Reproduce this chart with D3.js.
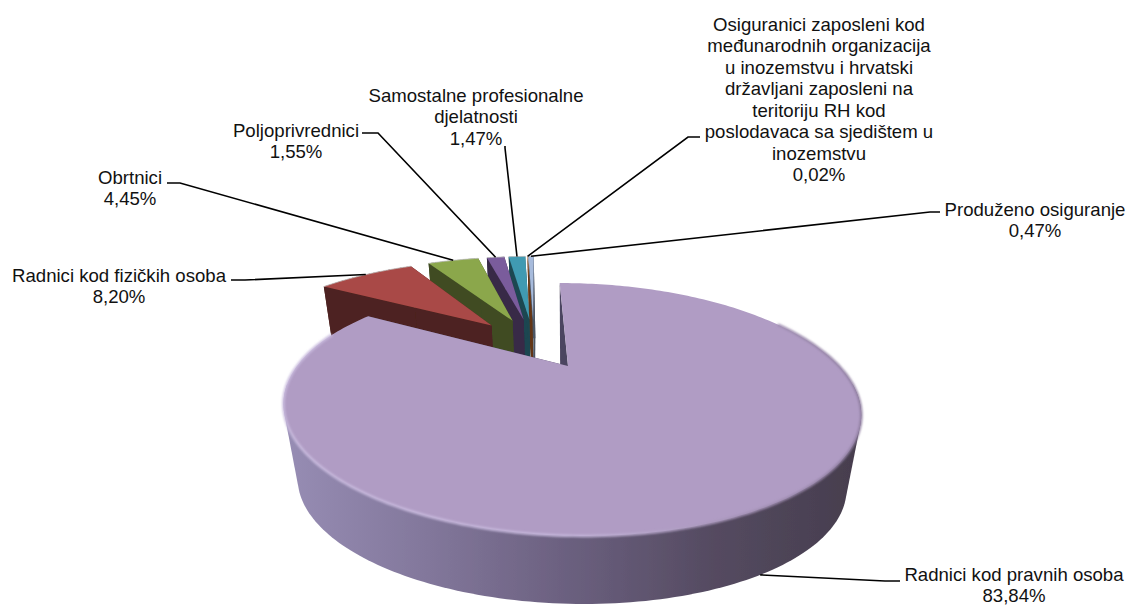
<!DOCTYPE html>
<html>
<head>
<meta charset="utf-8">
<script src="https://cdn.jsdelivr.net/npm/d3@7"></script>
<style>
  html, body { margin: 0; padding: 0; background: #fff; }
  text { font-family: "Liberation Sans", Arial, sans-serif; font-size: 18.6px; fill: #111; }
</style>
</head>
<body>
<svg id="chart"></svg>
<script>
const categories = [
    'Radnici kod pravnih osoba',
    'Radnici kod fizičkih osoba',
    'Obrtnici',
    'Poljoprivrednici',
    'Samostalne profesionalne djelatnosti',
    'Osiguranici zaposleni kod međunarodnih organizacija u inozemstvu i hrvatski državljani zaposleni na teritoriju RH kod poslodavaca sa sjedištem u inozemstvu',
    'Produženo osiguranje'
];
const shares = [83.84, 8.20, 4.45, 1.55, 1.47, 0.02, 0.47];
const shareLabels = ['83,84%', '8,20%', '4,45%', '1,55%', '1,47%', '0,02%', '0,47%'];
const colors = ['#b09cc4', '#a94a46', '#8ba74c', '#7a5c9c', '#3f9ab2', '#d9772b', '#a7bbdc'];

// label layout: wrapped lines, centre x, first line y, leader elbow and leader tail
const labelLayout = [
    { lines: ['Radnici kod pravnih osoba'], x: 1014, y: 574, elbow: [885, 581], tail: [900, 581], onBase: true },
    { lines: ['Radnici kod fizičkih osoba'], x: 119, y: 275, elbow: [245, 280], tail: [231, 280] },
    { lines: ['Obrtnici'], x: 130, y: 177, elbow: [180, 183], tail: [167, 183] },
    { lines: ['Poljoprivrednici'], x: 296, y: 130, elbow: [378, 133], tail: [362, 133] },
    { lines: ['Samostalne profesionalne', 'djelatnosti'], x: 476, y: 95, elbow: [505, 148], tail: [505, 146] },
    { lines: ['Osiguranici zaposleni kod', 'međunarodnih organizacija', 'u inozemstvu i hrvatski', 'državljani zaposleni na', 'teritoriju RH kod', 'poslodavaca sa sjedištem u', 'inozemstvu'], x: 819, y: 24, elbow: [688, 137], tail: [700, 137] },
    { lines: ['Produženo osiguranje'], x: 1035, y: 209, elbow: [930, 212], tail: [940, 212] }
];

const width = 1128, height = 605;

const svg = d3.select('#chart')
    .attr('width', width)
    .attr('height', height)
    .style('display', 'block');

// perspective of the pie plane: u to the right, v towards the viewer, radius 1
const px = 568, py = 366, ax = 271, ay = 111.5, persp = 0.344, skew = 0.1;
const baseScale = 0.95, vanishY = 1896;
const explode = 0.26;

function project(u, v, onBase) {
    const w = 1 - persp * v;
    const y = py + ay * v / w;
    const x = px + ax * u / w + skew * (y - py);
    if (!onBase) return [x, y];
    return [px + (x - px) * baseScale, vanishY + (y - vanishY) * baseScale];
}

const slices = d3.pie().sort(null)(shares);

const midAngle = d => (d.startAngle + d.endAngle) / 2;
const mainMid = midAngle(slices[0]);

// the main slice sits on the origin, everything else is offset from it
function sliceOrigin(d) {
    const a = midAngle(d);
    return [
        explode * (Math.sin(a) - Math.sin(mainMid)),
        explode * (Math.cos(mainMid) - Math.cos(a))
    ];
}

function rimPoint(d, a, onBase) {
    const o = sliceOrigin(d);
    return project(o[0] + Math.sin(a), o[1] - Math.cos(a), onBase);
}

function arcPoints(d, a0, a1, onBase) {
    const n = Math.max(2, Math.ceil((a1 - a0) / 0.02));
    return d3.range(n + 1).map(i => rimPoint(d, a0 + (a1 - a0) * i / n, onBase));
}

const closed = d3.line().curve(d3.curveLinearClosed);
const open = d3.line();

const defs = svg.append('defs');

const sideGrad = defs.append('linearGradient')
    .attr('id', 'sideGrad')
    .attr('gradientUnits', 'userSpaceOnUse')
    .attr('x1', 284).attr('x2', 862).attr('y1', 0).attr('y2', 0);
[[0, '#978db4'], [0.25, '#82779b'], [0.5, '#6a5f7e'], [0.75, '#544a60'], [1, '#463d4d']].forEach(s => {
    sideGrad.append('stop').attr('offset', s[0]).attr('stop-color', s[1]);
});

const rimGrad = defs.append('linearGradient')
    .attr('id', 'rimGrad')
    .attr('gradientUnits', 'userSpaceOnUse')
    .attr('x1', 284).attr('x2', 862).attr('y1', 0).attr('y2', 0);
[[0, '#c9bbde'], [0.5, '#c6b8dc'], [0.75, '#a896ba'], [1, '#8f7ea0']].forEach(s => {
    rimGrad.append('stop').attr('offset', s[0]).attr('stop-color', s[1]);
});

defs.append('filter').attr('id', 'soft')
    .append('feGaussianBlur').attr('stdDeviation', 0.8);

defs.append('filter').attr('id', 'softer')
    .append('feGaussianBlur').attr('stdDeviation', 0.45);

const pieGroup = svg.append('g').attr('filter', 'url(#softer)');

// back to front: the thin slices first, the big one last
slices.slice().reverse().forEach(d => {
    const i = d.index;
    const o = sliceOrigin(d);
    const apexTop = project(o[0], o[1], false);
    const apexBase = project(o[0], o[1], true);
    const wall = d3.color(colors[i]).darker(2.2).formatHex();
    const g = pieGroup.append('g');

    const faces = [d.startAngle, d.endAngle].map(a => [
        apexTop, rimPoint(d, a, false), rimPoint(d, a, true), apexBase
    ]);
    g.selectAll('path.wall')
        .data(i === 0 ? faces : faces.slice().reverse())
        .join('path')
        .attr('class', 'wall')
        .attr('d', closed)
        .attr('fill', i === 0 ? '#4c4560' : wall);

    const topArc = arcPoints(d, d.startAngle, d.endAngle, false);
    const baseArc = arcPoints(d, d.startAngle, d.endAngle, true);

    if (i === 0) {
        // front of the drum, the top face hides the upper part of the hull
        const a0 = Math.PI * 0.55, a1 = Math.PI * 1.45;
        const hull = d3.polygonHull(arcPoints(d, a0, a1, false).concat(arcPoints(d, a0, a1, true)));
        g.append('path')
            .attr('d', closed(hull))
            .attr('fill', 'url(#sideGrad)');
    } else {
        g.append('path')
            .attr('d', closed(topArc.concat(baseArc.slice().reverse())))
            .attr('fill', wall);
    }

    g.append('path')
        .attr('d', closed([apexTop].concat(topArc)))
        .attr('fill', colors[i]);

    if (i === 0) {
        // light bevel along the front of the rim
        g.append('path')
            .attr('d', open(arcPoints(d, Math.PI * 0.36, Math.PI * 1.6, false)))
            .attr('fill', 'none')
            .attr('stroke', 'url(#rimGrad)')
            .attr('stroke-width', 2.5)
            .attr('filter', 'url(#soft)');
    } else {
        g.append('path')
            .attr('d', open(topArc))
            .attr('fill', 'none')
            .attr('stroke', '#c8c8c8')
            .attr('stroke-width', 0.8);
    }
});

// leader lines start on the rim of their slice
const leaders = svg.append('g')
    .attr('fill', 'none')
    .attr('stroke', '#000')
    .attr('stroke-width', 1.6);

slices.forEach(d => {
    const l = labelLayout[d.index];
    leaders.append('path')
        .attr('d', open([rimPoint(d, midAngle(d), !!l.onBase), l.elbow, l.tail]));
});

const labels = svg.append('g').attr('text-anchor', 'middle');

slices.forEach(d => {
    const l = labelLayout[d.index];
    l.lines.concat([shareLabels[d.index]]).forEach((row, r) => {
        labels.append('text')
            .attr('x', l.x)
            .attr('y', l.y + r * 21.5)
            .attr('dy', '0.35em')
            .text(row);
    });
});
</script>
</body>
</html>
